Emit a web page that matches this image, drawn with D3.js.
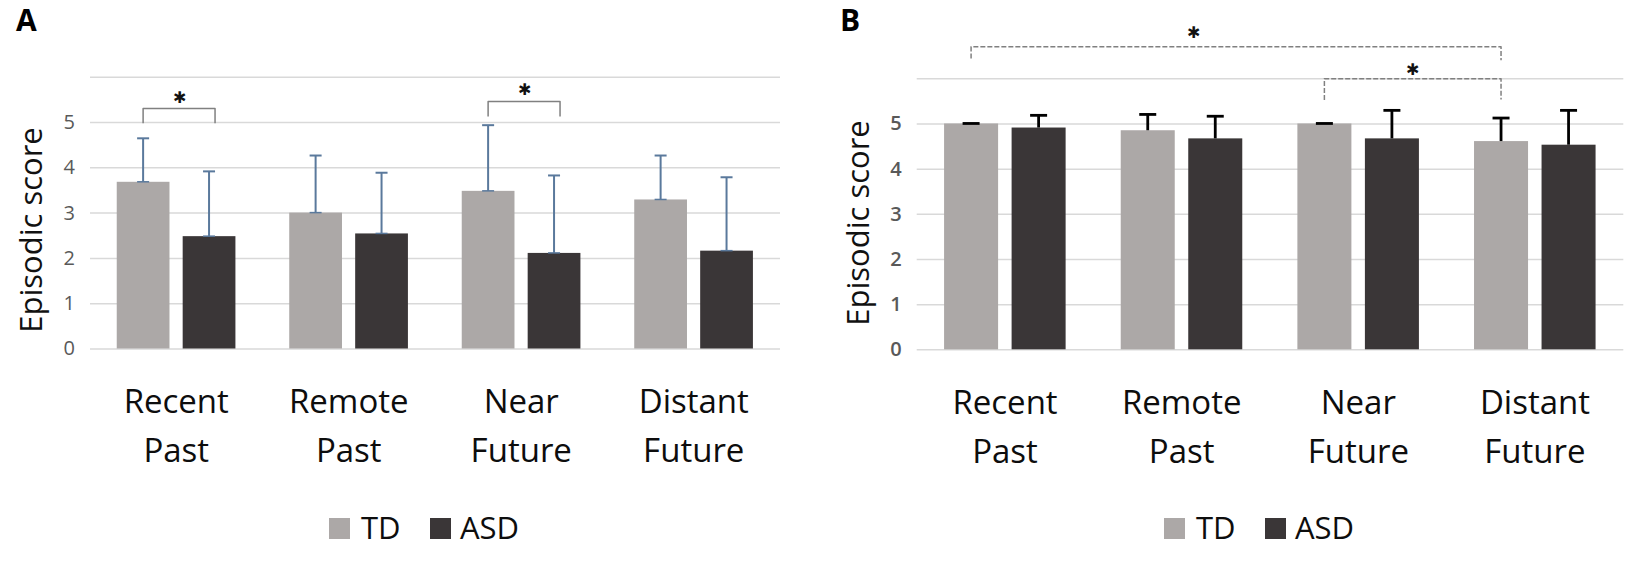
<!DOCTYPE html>
<html>
<head>
<meta charset="utf-8">
<script src="https://cdn.jsdelivr.net/npm/d3@7"></script>
<style>
  body { margin: 0; background: #fff; }
  text { font-family: "Open Sans", sans-serif; }
</style>
</head>
<body>
<svg id="chart" width="1647" height="562"></svg>
<script>
// categories and series
const categories = ["Recent Past", "Remote Past", "Near Future", "Distant Future"];
const groups = ["TD", "ASD"];
const yTicks = [0, 1, 2, 3, 4, 5, 6];
const yLabels = ["0", "1", "2", "3", "4", "5", ""];

// panel A: means and SDs
const aTdMean = [3.68, 3.00, 3.48, 3.29];
const aTdSd = [0.96, 1.26, 1.45, 0.97];
const aAsdMean = [2.48, 2.54, 2.11, 2.16];
const aAsdSd = [1.43, 1.34, 1.71, 1.62];

// panel B: means and SDs
const bTdMean = [5.00, 4.85, 5.00, 4.61];
const bTdSd = [0.00, 0.35, 0.00, 0.51];
const bAsdMean = [4.91, 4.67, 4.67, 4.53];
const bAsdSd = [0.27, 0.49, 0.62, 0.76];

// significance brackets (values in score units)
const aBrackets = [
    { from: ["Recent Past", "TD"], to: ["Recent Past", "ASD"], top: 5.30, legs: [4.97, 4.97], star: 5.56, at: 0.5 },
    { from: ["Near Future", "TD"], to: ["Near Future", "ASD"], top: 5.45, legs: [5.12, 5.12], star: 5.72, at: 0.5 }
];
const bBrackets = [
    { from: ["Recent Past", "TD"], to: ["Distant Future", "TD"], top: 6.70, legs: [6.44, 6.40], star: 7.02, at: 0.42 },
    { from: ["Near Future", "TD"], to: ["Distant Future", "TD"], top: 5.99, legs: [5.52, 5.53], star: 6.21, at: 0.5 }
];

const colors = { TD: "#aca8a7", ASD: "#3a3637" };

const panels = [
    {
        letter: "A", letterX: 16, left: 90, right: 780, top: 76.7, bottom: 348.5,
        titleX: 30, titleY: 230,
        mean: { TD: aTdMean, ASD: aAsdMean }, sd: { TD: aTdSd, ASD: aAsdSd },
        brackets: aBrackets, dashed: false, rightShift: 6,
        errColor: "#5a799c", errWidth: 2, capW: 12, baseCap: true, tickWeight: 400
    },
    {
        letter: "B", letterX: 840, left: 916.7, right: 1623.3, top: 78.3, bottom: 349.3,
        titleX: 857, titleY: 223,
        mean: { TD: bTdMean, ASD: bAsdMean }, sd: { TD: bTdSd, ASD: bAsdSd },
        brackets: bBrackets, dashed: true, rightShift: 0,
        errColor: "#000", errWidth: 2.8, capW: 17, baseCap: false, tickWeight: 600
    }
];

const svg = d3.select("#chart");

panels.forEach(p => drawPanel(p));

function drawPanel(p) {
    const g = svg.append("g");

    const x0 = d3.scaleBand().domain(categories).range([p.left, p.right]);
    const bw = x0.bandwidth();
    const x1 = d3.scaleBand().domain(groups)
        .range([bw * 0.155, bw * 0.843])
        .paddingInner(0.2);
    const y = d3.scaleLinear().domain([0, 6]).range([p.bottom, p.top]);

    // panel letter
    g.append("text")
        .attr("x", p.letterX)
        .attr("y", 30.5)
        .attr("font-family", "Liberation Sans, Arial, sans-serif")
        .attr("font-weight", "bold")
        .attr("font-size", 30)
        .text(p.letter);

    // gridlines + tick labels
    g.append("g")
        .attr("transform", `translate(${p.left},0)`)
        .call(d3.axisLeft(y)
            .tickValues(yTicks)
            .tickSize(-(p.right - p.left))
            .tickPadding(15)
            .tickFormat((d, i) => yLabels[i]))
        .call(a => a.select(".domain").remove())
        .call(a => a.selectAll("line").attr("stroke", "#d9d9d9").attr("stroke-width", 1.5))
        .call(a => a.selectAll("text")
            .attr("font-family", "Open Sans, sans-serif")
            .attr("font-size", 20)
            .attr("font-weight", p.tickWeight)
            .attr("fill", "#595959"));

    // y title
    g.append("text")
        .attr("transform", `translate(${p.titleX},${p.titleY}) rotate(-90)`)
        .attr("text-anchor", "middle")
        .attr("dominant-baseline", "central")
        .attr("font-size", 31)
        .attr("fill", "#111")
        .text("Episodic score");

    const rows = categories.map((c, i) => ({
        cat: c,
        values: groups.map(k => ({ key: k, mean: p.mean[k][i], sd: p.sd[k][i] }))
    }));

    const cat = g.selectAll(".cat")
        .data(rows)
        .join("g")
        .attr("class", "cat")
        .attr("transform", d => `translate(${x0(d.cat)},0)`);

    cat.selectAll("rect")
        .data(d => d.values)
        .join("rect")
        .attr("x", d => x1(d.key))
        .attr("y", d => y(d.mean))
        .attr("width", x1.bandwidth())
        .attr("height", d => y(0) - y(d.mean))
        .attr("fill", d => colors[d.key]);

    // error bars (plus direction)
    const err = cat.selectAll(".err")
        .data(d => d.values)
        .join("g")
        .attr("class", "err")
        .attr("stroke", p.errColor)
        .attr("stroke-width", p.errWidth);

    const cx = d => x1(d.key) + x1.bandwidth() / 2;

    err.append("line")
        .attr("x1", cx).attr("x2", cx)
        .attr("y1", d => y(d.mean))
        .attr("y2", d => y(d.mean + d.sd));

    err.append("line")
        .attr("x1", d => cx(d) - p.capW / 2)
        .attr("x2", d => cx(d) + p.capW / 2)
        .attr("y1", d => y(d.mean + d.sd))
        .attr("y2", d => y(d.mean + d.sd));

    if (p.baseCap) {
        err.append("line")
            .attr("x1", d => cx(d) - p.capW / 2)
            .attr("x2", d => cx(d) + p.capW / 2)
            .attr("y1", d => y(d.mean))
            .attr("y2", d => y(d.mean))
            .attr("stroke-width", 1.5);
    }

    // category labels, two lines
    g.append("g")
        .attr("transform", `translate(0,${p.bottom})`)
        .call(d3.axisBottom(x0).tickSize(0).tickFormat(""))
        .call(a => a.select(".domain").remove())
        .call(a => a.selectAll(".tick").each(function (d) {
            const words = d.split(" ");
            const t = d3.select(this).append("text")
                .attr("text-anchor", "middle")
                .attr("font-family", "Open Sans, sans-serif")
                .attr("font-size", 33)
                .attr("fill", "#0d0d0d");
            words.forEach((w, i) => {
                t.append("tspan").attr("x", 0).attr("y", 64.5 + i * 49).text(w);
            });
        }));

    // brackets
    const bx = (c, k) => x0(c) + x1(k) + x1.bandwidth() / 2;
    const line = d3.line();
    p.brackets.forEach(b => {
        const xa = bx(b.from[0], b.from[1]);
        const xb = bx(b.to[0], b.to[1]) + p.rightShift;
        g.append("path")
            .attr("d", line([[xa, y(b.legs[0])], [xa, y(b.top)], [xb, y(b.top)], [xb, y(b.legs[1])]]))
            .attr("fill", "none")
            .attr("stroke", "#808080")
            .attr("stroke-width", 1.5)
            .attr("stroke-linejoin", "round")
            .attr("stroke-dasharray", p.dashed ? "5,2" : null);
        g.append("text")
            .attr("x", xa + (xb - xa) * b.at)
            .attr("y", y(b.star))
            .attr("text-anchor", "middle")
            .attr("dominant-baseline", "central")
            .attr("font-family", "DejaVu Sans, sans-serif")
            .attr("font-size", 16)
            .attr("fill", "#111")
            .text("\u2731");
    });

    // legend
    const lx = (p.left + p.right) / 2 - 106;
    const legend = g.append("g").attr("transform", `translate(${lx},0)`);
    const items = [{ key: "TD", sx: 0, tx: 32 }, { key: "ASD", sx: 101, tx: 131 }];
    legend.selectAll("rect")
        .data(items)
        .join("rect")
        .attr("x", d => d.sx)
        .attr("y", 518)
        .attr("width", 21)
        .attr("height", 21)
        .attr("fill", d => colors[d.key]);
    legend.selectAll("text")
        .data(items)
        .join("text")
        .attr("x", d => d.tx)
        .attr("y", 539)
        .attr("font-size", 31)
        .attr("fill", "#0d0d0d")
        .text(d => d.key);
}
</script>
</body>
</html>
